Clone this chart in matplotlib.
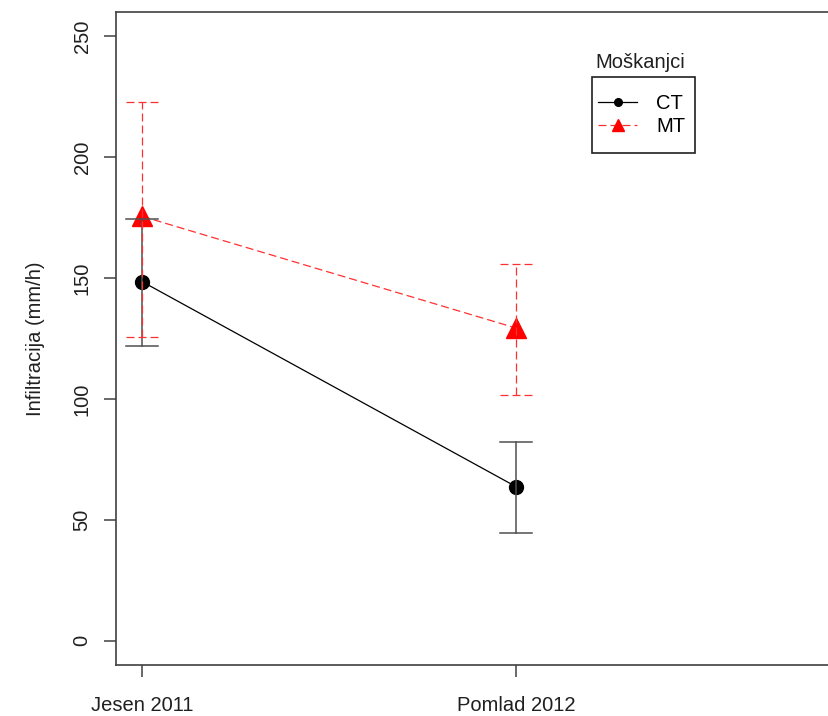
import matplotlib
matplotlib.use("Agg")
import matplotlib.pyplot as plt
from matplotlib.lines import Line2D
from matplotlib.patches import Rectangle

plt.rcParams["font.family"] = ["Liberation Sans", "DejaVu Sans"]

# podatki
seasons = ["Jesen 2011", "Pomlad 2012"]
x_pos = [1, 2]
ct_mean = [148.5, 63.7]
ct_low = [121.8, 44.4]
ct_high = [174.3, 82.2]
mt_mean = [175.5, 129.3]
mt_low = [125.8, 101.7]
mt_high = [222.8, 155.8]
y_ticks = [0, 50, 100, 150, 200, 250]

W, H = 829, 716
fig = plt.figure(figsize=(W / 100, H / 100), dpi=100)
left, right, top, bottom = 116, 880, 12, 665
ax = fig.add_axes([left / W, 1 - bottom / H, (right - left) / W, (bottom - top) / H])

axis_col = "#404040"
red = "#ff3030"
dash = (6.4, 3.2)
cap = 0.043

# CT
ax.plot(x_pos, ct_mean, color="black", lw=0.9, zorder=3)
ax.plot(x_pos, ct_mean, "o", color="black", ms=10, zorder=4)
for xi, lo, hi in zip(x_pos, ct_low, ct_high):
    ax.plot([xi, xi], [lo, hi], color="#505050", lw=1.1, zorder=5)
    for yv in (lo, hi):
        ax.plot([xi - cap, xi + cap], [yv, yv], color="#505050", lw=1.1, zorder=5)

# MT
ax.plot(x_pos, mt_mean, color=red, lw=0.9, dashes=dash, zorder=3)
ax.plot(x_pos, mt_mean, "^", color="red", ms=15, zorder=4)
for xi, lo, hi in zip(x_pos, mt_low, mt_high):
    ax.plot([xi, xi], [lo, hi], color=red, lw=0.9, dashes=dash, zorder=6)
    for yv in (lo, hi):
        ax.plot([xi - cap, xi + cap], [yv, yv], color=red, lw=0.9,
                dashes=dash, zorder=6)

ax.set_xlim(0.93, 0.93 + (right - left) / 374)
ax.set_ylim(-10, 260)
ax.set_xticks(x_pos)
ax.set_xticklabels(seasons, fontsize=14.5, color="#202020")
ax.set_yticks(y_ticks)
ax.set_yticklabels([str(v) for v in y_ticks], fontsize=14.5, color="#202020",
                   rotation=90, va="center")
ax.tick_params(axis="both", length=8.5, width=1.1, color=axis_col)
ax.tick_params(axis="y", pad=9)
ax.tick_params(axis="x", pad=14)
for s in ax.spines.values():
    s.set_color(axis_col)
    s.set_linewidth(1.2)
ax.set_ylabel("Infiltracija (mm/h)", fontsize=14.5, color="#202020", labelpad=20)

# legenda
handles = [
    Line2D([0], [0], color="black", lw=0.9, marker="o", ms=5.5),
    Line2D([0], [0], color=red, lw=0.9, dashes=dash, marker="^", ms=8,
           markerfacecolor="red", markeredgecolor="red"),
]
leg = fig.legend(handles, ["CT", "MT"], loc="center left",
                 bbox_to_anchor=(598 / W, 1 - 115 / H), fontsize=14.5,
                 frameon=False, handlelength=1.95, handletextpad=0.95,
                 borderpad=0, labelspacing=0.2, borderaxespad=0)
fig.patches.append(Rectangle((592 / W, 1 - 153 / H), 103 / W, 76 / H,
                             transform=fig.transFigure, fill=False,
                             edgecolor="#202020", lw=1.2))
fig.text(595 / W, 1 - 62 / H, "Moškanjci", fontsize=14.5, color="#202020",
         ha="left", va="center")

fig.savefig("out.png", dpi=100)
